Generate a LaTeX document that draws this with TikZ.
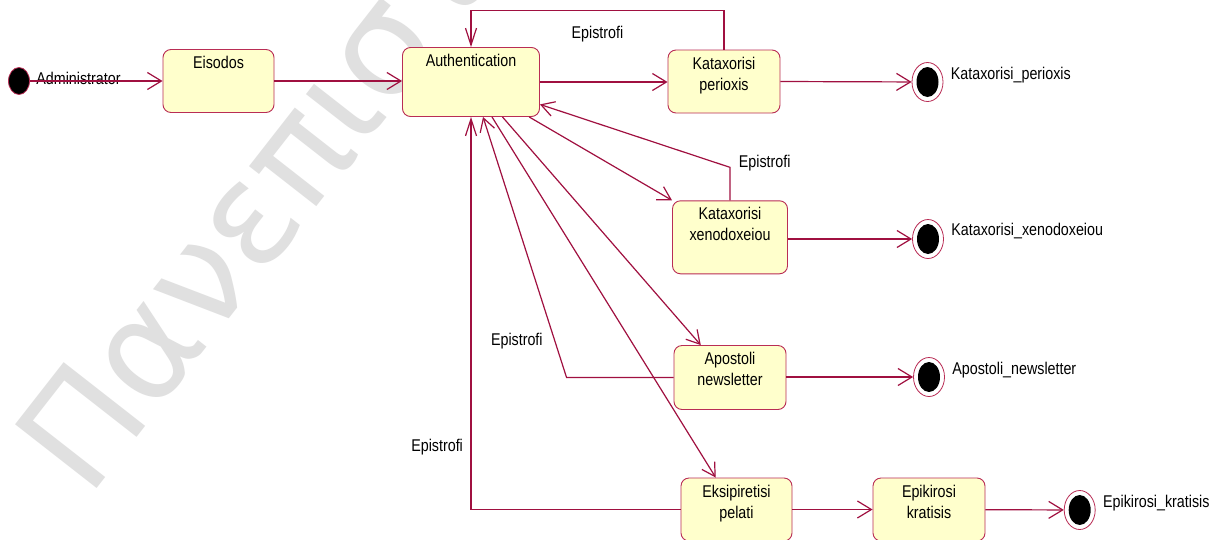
\documentclass[tikz,border=0pt]{standalone}
\usepackage{fontspec}
\setmainfont{Liberation Sans}[FakeStretch=0.84]
\newfontfamily\wmfont{DejaVu Sans}
\usetikzlibrary{arrows.meta,shapes.geometric}

\definecolor{umlline}{RGB}{160,16,64}
\definecolor{umlborder}{RGB}{185,45,85}
\definecolor{umlfill}{RGB}{255,255,204}

\tikzset{
    stt/.style={draw=umlborder, fill=umlfill, rounded corners=8pt, line width=0.9pt,
        minimum width=111pt, minimum height=63pt, inner sep=0pt},
    stlabel/.style={anchor=north, align=center, inner sep=0pt, yshift=-7pt},
    startst/.style={ellipse, draw=umlborder, fill=black, line width=0.8pt,
        minimum width=21pt, minimum height=27pt, inner sep=0pt},
    endst/.style={ellipse, draw=umlborder, fill=white, line width=0.8pt,
        minimum width=31pt, minimum height=39pt, inner sep=0pt,
        path picture={\fill[black] (path picture bounding box.center) ellipse [x radius=11pt, y radius=15pt];}},
    trans/.style={draw=umlline, line width=1.2pt, -{Straight Barb[length=14pt,width=17pt]}},
    transv/.style={trans, -{Straight Barb[length=17pt,width=11pt]}},
    transd/.style={trans, -{Straight Barb[length=13pt,width=15pt]}},
    wmark/.style={text=black!12, inner sep=0pt, font=\wmfont\fontsize{142}{142}\selectfont}
}

\begin{document}
\begin{tikzpicture}[x=1pt, y=-1pt, font=\fontsize{17}{21}\selectfont]
    \useasboundingbox (0,0) rectangle (1227,539);
    \fill[white] (0,0) rectangle (1227,539);
    \node[wmark, anchor=base west, rotate=52] (wm) at (88,500) {Πανεπιστήμιο};

    \node[startst] (init) at (19,81) {};
    \node[anchor=base west, xshift=3pt, yshift=-3pt] (admin) at (init.east) {Administrator};

    \node[stt, label={[stlabel]above:Eisodos}] (eis) at (218.5,81) {};
    \node[stt, minimum width=137pt, minimum height=69pt, label={[stlabel]above:Authentication}] (auth) at (471,82) {};
    \node[stt, minimum width=112pt, label={[stlabel]above:Kataxorisi\\perioxis}] (katper) at (724,81.5) {};
    \node[stt, minimum width=115pt, minimum height=73pt, label={[stlabel]above:Kataxorisi\\xenodoxeiou}] (katxen) at (730,237.3) {};
    \node[stt, minimum width=112pt, minimum height=64pt, label={[stlabel]above:Apostoli\\newsletter}] (apost) at (730,377.5) {};
    \node[stt, label={[stlabel]above:Eksipiretisi\\pelati}] (eksip) at (736.5,509.5) {};
    \node[stt, minimum width=112pt, label={[stlabel]above:Epikirosi\\kratisis}] (epik) at (929,509.5) {};

    \node[endst] (fper) at (927.5,82) {};
    \node[anchor=base west, xshift=4pt, yshift=3pt] (fperlbl) at (fper.east) {Kataxorisi\_perioxis};
    \node[endst] (fxen) at (928,239) {};
    \node[anchor=base west, xshift=4pt, yshift=4pt] (fxenlbl) at (fxen.east) {Kataxorisi\_xenodoxeiou};
    \node[endst] (fnews) at (929,377) {};
    \node[anchor=base west, xshift=4pt, yshift=3pt] (fnewslbl) at (fnews.east) {Apostoli\_newsletter};
    \node[endst] (fkrat) at (1079.7,510) {};
    \node[anchor=base west, xshift=4pt, yshift=3pt] (fkratlbl) at (fkrat.east) {Epikirosi\_kratisis};

    \draw[trans] (init) -- (eis);
    \draw[trans] (eis.east) -- (eis.east -| auth.west);
    \draw[trans] (auth.east) -- (auth.east -| katper.west);
    \draw[transv] (katper.north) -- ++(0,-39) -| node[pos=0.25, below=15pt, inner sep=0pt]{Epistrofi} (auth.north);
    \draw[trans] (katper.east) -- (fper);

    \draw[transd] (auth.-31) -- (katxen.north west);
    \draw[transd] (katxen.north) -- ++(0,-33) node[anchor=base west, xshift=5pt]{Epistrofi} -- (auth.-18);
    \draw[trans] (katxen.east |- fxen) -- (fxen);

    \draw[transd] (auth.-48) -- (apost.132);
    \draw[transd] (apost.west) -- ++(-107,0) node[anchor=base east, xshift=-20pt, yshift=32pt]{Epistrofi} -- (auth.-71);
    \draw[trans] (apost.east |- fnews) -- (fnews);

    \draw[transd] (auth.-59) -- (eksip.123);
    \draw[transv] (eksip.west) -| node[pos=0.58, left=7.5pt, inner sep=0pt]{Epistrofi} (auth.south);
    \draw[trans] (eksip) -- (epik);
    \draw[trans] (epik) -- (fkrat);
\end{tikzpicture}
\end{document}
